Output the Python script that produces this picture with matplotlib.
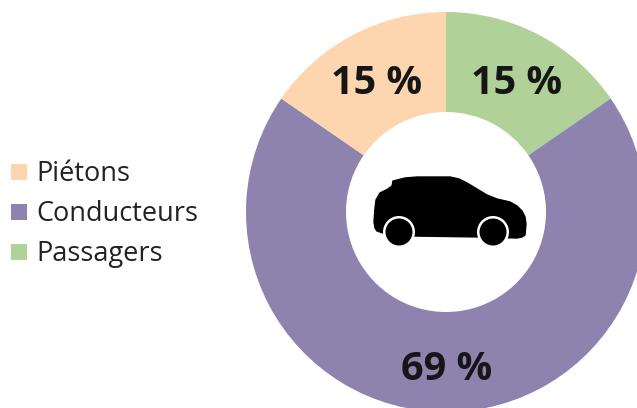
#!/usr/bin/env python
"""Donut chart of road users with a car silhouette in the hole."""

import matplotlib

matplotlib.use("Agg")
import matplotlib.pyplot as plt
from matplotlib.patches import Circle, Polygon

labels = ["Passagers", "Conducteurs", "Piétons"]
values = [15.4, 69.2, 15.4]
value_labels = ["15 %", "69 %", "15 %"]
colors = ["#b0d197", "#8e83ae", "#fdd5ae"]
legend_order = ["Piétons", "Conducteurs", "Passagers"]

W, H = 637, 408
plt.rcParams["font.family"] = ["Open Sans", "DejaVu Sans"]

fig = plt.figure(figsize=(W / 100, H / 100), dpi=100)
ax = fig.add_axes([0, 0, 1, 1])

cx, cy, r_out, r_in = 446, 212, 200, 100

# y axis is inverted below, so startangle/counterclock are mirrored
ax.pie(
    values,
    colors=colors,
    startangle=-90,
    counterclock=True,
    center=(cx, cy),
    radius=r_out,
    wedgeprops=dict(width=r_out - r_in, linewidth=0),
    frame=False,
)
ax.set_xlim(0, W)
ax.set_ylim(H, 0)
ax.set_aspect("equal")
ax.axis("off")

label_style = dict(ha="center", va="center", fontsize=28.5, fontweight="bold", color="#161616")
ax.text(377, 84, value_labels[2], **label_style)
ax.text(517, 84, value_labels[0], **label_style)
ax.text(447, 369, value_labels[1], **label_style)

# car silhouette
car_outline = [
    (374, 222), (375, 208), (376, 200), (380, 193), (388, 189), (392, 186), (393, 181),
    (405, 178), (417, 177), (450, 177), (459, 179), (467, 183), (487, 195), (497, 199),
    (510, 202), (517, 206), (522, 211), (525, 217), (526, 224), (525, 235), (522, 237),
    (517, 238), (480, 237), (413, 236), (383, 233), (377, 231), (375, 228),
]
ax.add_patch(Polygon(car_outline, closed=True, facecolor="black", edgecolor="black",
                     linewidth=1, joinstyle="round"))
for wx in (399, 493):
    ax.add_patch(Circle((wx, 232), 16, facecolor="white", edgecolor="none"))
    ax.add_patch(Circle((wx, 232), 13.5, facecolor="black", edgecolor="none"))

# legend drawn by hand to keep the spacing of the original
for y, name in zip((174, 214, 254), legend_order):
    color = colors[labels.index(name)]
    ax.scatter([19], [y - 2], marker="s", s=130, color=color, linewidths=0)
    ax.text(36, y, name, ha="left", va="center", fontsize=19.5, color="#222222")

fig.savefig("out.png", dpi=100)
